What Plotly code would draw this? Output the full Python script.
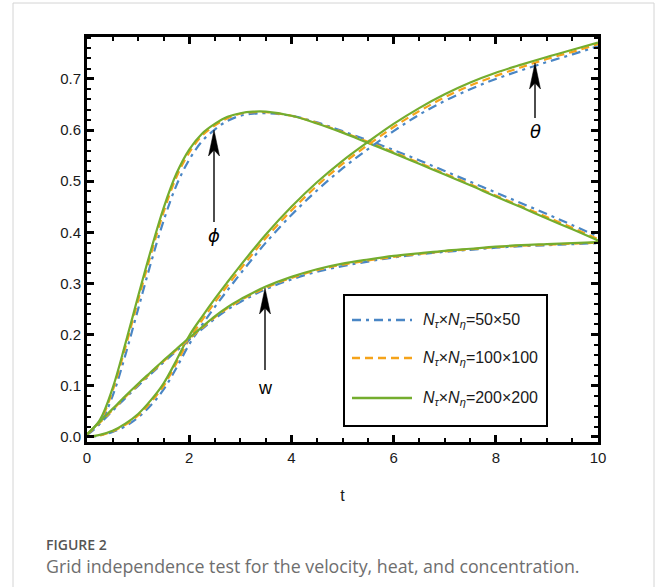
import plotly.graph_objects as go

# ---------------- data ----------------
t = [0, 0.25, 0.5, 0.75, 1, 1.25, 1.5, 1.75, 2, 2.25, 2.5, 2.75, 3, 3.25, 3.5,
     4, 4.5, 5, 5.5, 6, 6.5, 7, 7.5, 8, 8.5, 9, 9.5, 10]

phi_50 = [0.004, 0.026, 0.080, 0.160, 0.250, 0.340, 0.423, 0.492, 0.542, 0.578, 0.601, 0.618, 0.628, 0.632,
          0.633, 0.628, 0.615, 0.598, 0.580, 0.561, 0.541, 0.520, 0.499, 0.478, 0.457, 0.436, 0.414, 0.392]
phi_100 = [0.005, 0.030, 0.090, 0.175, 0.267, 0.357, 0.440, 0.508, 0.556, 0.589, 0.609, 0.623, 0.632, 0.635,
           0.635, 0.628, 0.614, 0.596, 0.577, 0.557, 0.536, 0.515, 0.494, 0.472, 0.451, 0.430, 0.409, 0.387]
phi_200 = [0.005, 0.033, 0.095, 0.182, 0.275, 0.365, 0.448, 0.515, 0.562, 0.593, 0.612, 0.626, 0.633, 0.636,
           0.636, 0.628, 0.613, 0.595, 0.575, 0.555, 0.534, 0.513, 0.492, 0.470, 0.449, 0.427, 0.406, 0.384]

theta_50 = [0, 0.003, 0.010, 0.021, 0.038, 0.062, 0.093, 0.135, 0.181, 0.219, 0.254, 0.287, 0.319, 0.350,
            0.380, 0.434, 0.482, 0.525, 0.563, 0.598, 0.630, 0.657, 0.680, 0.700, 0.717, 0.733, 0.748, 0.764]
theta_100 = [0, 0.003, 0.011, 0.024, 0.042, 0.068, 0.100, 0.144, 0.191, 0.228, 0.263, 0.296, 0.328, 0.359,
             0.389, 0.443, 0.491, 0.534, 0.571, 0.606, 0.637, 0.664, 0.687, 0.706, 0.723, 0.739, 0.753, 0.768]
theta_200 = [0, 0.004, 0.012, 0.026, 0.045, 0.072, 0.105, 0.150, 0.198, 0.235, 0.270, 0.303, 0.335, 0.366,
             0.396, 0.450, 0.498, 0.540, 0.577, 0.612, 0.643, 0.670, 0.693, 0.712, 0.728, 0.743, 0.757, 0.771]

w_50 = [0.005, 0.026, 0.051, 0.076, 0.100, 0.123, 0.146, 0.168, 0.190, 0.211, 0.231, 0.249, 0.264, 0.277,
        0.289, 0.308, 0.323, 0.334, 0.343, 0.351, 0.357, 0.362, 0.366, 0.370, 0.373, 0.375, 0.377, 0.379]
w_100 = [0.005, 0.028, 0.053, 0.078, 0.102, 0.125, 0.148, 0.170, 0.192, 0.213, 0.234, 0.252, 0.267, 0.280,
         0.292, 0.311, 0.326, 0.337, 0.345, 0.352, 0.358, 0.363, 0.367, 0.371, 0.374, 0.376, 0.378, 0.380]
w_200 = [0.005, 0.030, 0.055, 0.080, 0.104, 0.127, 0.150, 0.172, 0.194, 0.215, 0.236, 0.254, 0.269, 0.282,
         0.294, 0.313, 0.328, 0.339, 0.347, 0.354, 0.359, 0.364, 0.368, 0.372, 0.375, 0.377, 0.379, 0.381]

series_names = ["<i>N</i><sub><i>τ</i></sub>×<i>N</i><sub><i>η</i></sub>=50×50",
                "<i>N</i><sub><i>τ</i></sub>×<i>N</i><sub><i>η</i></sub>=100×100",
                "<i>N</i><sub><i>τ</i></sub>×<i>N</i><sub><i>η</i></sub>=200×200"]
x_ticks = [0, 2, 4, 6, 8, 10]
y_ticks = [0.0, 0.1, 0.2, 0.3, 0.4, 0.5, 0.6, 0.7]

# ---------------- style ----------------
colors = ["#4A86C5", "#F5A31A", "#74AD2E"]
dashes = ["9px,5px,3px,5px", "8px,5px", "solid"]
widths = [2.2, 2.2, 2.2]
SANS = "Liberation Sans"

W_FIG, H_FIG = 656, 587
L, R, T, B = 87, 598, 37, 442
PW, PH = R - L, B - T


def px(x):
    return (x - L) / PW


def py(y):
    return (B - y) / PH


fig = go.Figure()
groups = [(phi_50, phi_100, phi_200), (theta_50, theta_100, theta_200), (w_50, w_100, w_200)]
for grp in groups:
    for i, ys in enumerate(grp):
        fig.add_trace(go.Scatter(
            x=t, y=ys, mode="lines", name=series_names[i], showlegend=False,
            line=dict(color=colors[i], dash=dashes[i], width=widths[i], shape="spline", smoothing=1.0),
            hoverinfo="skip"))

axis_common = dict(
    showline=True, linecolor="black", linewidth=3, mirror="ticks",
    ticks="inside", tickcolor="black", showgrid=False, zeroline=False,
    tickfont=dict(family=SANS, size=15, color="#1a1a1a"),
)

fig.update_layout(
    width=W_FIG, height=H_FIG,
    margin=dict(l=L, r=W_FIG - R, t=T, b=H_FIG - B),
    paper_bgcolor="white", plot_bgcolor="white",
    showlegend=False,
    xaxis=dict(range=[0, 10], tickmode="array", tickvals=x_ticks,
               ticklen=7, tickwidth=2.5,
               minor=dict(dtick=0.5, tick0=0, ticklen=4, tickwidth=2, tickcolor="black", ticks="inside"),
               title=dict(text="t", font=dict(family=SANS, size=16, color="#1a1a1a"), standoff=25),
               **axis_common),
    yaxis=dict(range=[-0.0098, 0.782], tickmode="array", tickvals=y_ticks,
               ticktext=[f"{v:.1f}" for v in y_ticks],
               ticklen=7, tickwidth=2.5,
               minor=dict(dtick=0.02, tick0=0, ticklen=4, tickwidth=2, tickcolor="black", ticks="inside"),
               **axis_common),
)

shapes = []
annotations = []

# card border
shapes.append(dict(type="rect", xref="paper", yref="paper",
                   x0=px(13), x1=px(654), y0=py(620), y1=py(3),
                   line=dict(color="#d4d4d4", width=1), fillcolor="rgba(0,0,0,0)", layer="below"))

# arrows with labels
arrow_specs = [  # x, shaft start (bottom), tip, label, label y, italic, font, size
    (214, 222, 130, "ϕ", 235, True, "DejaVu Sans", 18),
    (535, 118, 63, "θ", 131, True, "DejaVu Sans", 18),
    (265, 370, 288, "w", 388, False, SANS, 18),
]
for ax_, y_start, y_tip, lab, ly, ital, fam, fs in arrow_specs:
    head_len, half_w, notch = 26, 5.5, 20
    shapes.append(dict(type="line", xref="paper", yref="paper",
                       x0=px(ax_), x1=px(ax_), y0=py(y_start), y1=py(y_tip + notch),
                       line=dict(color="black", width=1.4)))
    path = (f"M {px(ax_)},{py(y_tip)} L {px(ax_ - half_w)},{py(y_tip + head_len)} "
            f"L {px(ax_)},{py(y_tip + notch)} L {px(ax_ + half_w)},{py(y_tip + head_len)} Z")
    shapes.append(dict(type="path", xref="paper", yref="paper", path=path,
                       fillcolor="black", line=dict(color="black", width=0.5)))
    txt = f"<i>{lab}</i>" if ital else lab
    annotations.append(dict(xref="paper", yref="paper", x=px(ax_), y=py(ly), text=txt,
                            showarrow=False, xanchor="center", yanchor="middle",
                            font=dict(family=fam, size=fs, color="black")))

# legend (custom box)
shapes.append(dict(type="rect", xref="paper", yref="paper",
                   x0=px(344), x1=px(547), y0=py(426), y1=py(295),
                   line=dict(color="black", width=2), fillcolor="white", layer="above"))
leg_rows = [320, 358, 398]
for i, yy in enumerate(leg_rows):
    shapes.append(dict(type="line", xref="paper", yref="paper",
                       x0=px(352), x1=px(412), y0=py(yy), y1=py(yy),
                       line=dict(color=colors[i], width=2.5, dash=dashes[i])))
    annotations.append(dict(xref="paper", yref="paper", x=px(421), y=py(yy), text=series_names[i],
                            showarrow=False, xanchor="left", yanchor="middle",
                            font=dict(family=SANS, size=16, color="#1a1a1a")))

# caption
annotations.append(dict(xref="paper", yref="paper", x=px(44), y=py(544), text="FIGURE 2",
                        showarrow=False, xanchor="left", yanchor="middle",
                        font=dict(family="Open Sans", size=14, color="#555555", weight=600)))
annotations.append(dict(xref="paper", yref="paper", x=px(44), y=py(566),
                        text="Grid independence test for the velocity, heat, and concentration.",
                        showarrow=False, xanchor="left", yanchor="middle",
                        font=dict(family="Open Sans", size=17.8, color="#6e6e6e")))

fig.update_layout(shapes=shapes, annotations=annotations)
fig.write_html("out.html")
